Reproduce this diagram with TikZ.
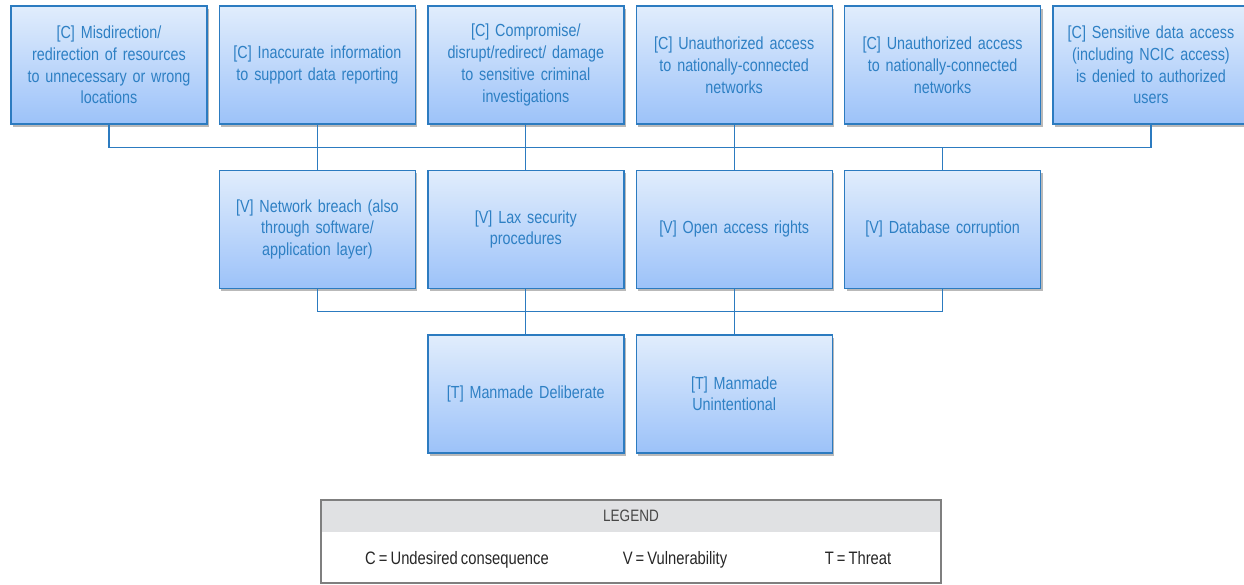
\documentclass[tikz,border=0pt]{standalone}
\usepackage{fontspec}
\setmainfont{Liberation Sans}[FakeStretch=0.82, WordSpace=0.75]
\usepackage{tikz}
\usetikzlibrary{calc,positioning,shadows}
\definecolor{boxline}{HTML}{2C7BC0}
\definecolor{boxtop}{HTML}{E1EDFC}
\definecolor{boxbottom}{HTML}{9CC2F9}
\definecolor{boxtext}{HTML}{2E80C4}
\definecolor{legendgray}{HTML}{E0E1E3}
\definecolor{legendline}{HTML}{7F7F7F}
\definecolor{legendtext}{HTML}{262626}

\begin{document}
\begin{tikzpicture}[
            x=1pt, y=1pt,
            node distance = 45pt and 11pt,
            riskbox/.style = {draw=boxline,
                line width=1.4pt,
                top color=boxtop,
                bottom color=boxbottom,
                text=boxtext,
                font=\fontsize{17.5}{21.8}\selectfont,
                inner sep=0pt,
                minimum width=196pt,
                minimum height=118pt,
                text width=190pt,
                align=center,
                drop shadow={shadow xshift=2pt, shadow yshift=-3pt, fill=black!50, opacity=.55},
            },
            link/.style = {draw=boxline, line width=1.2pt},
            legendtxt/.style = {text=legendtext, font=\fontsize{18}{20}\selectfont, inner sep=0pt, anchor=base},
        ]
            \useasboundingbox (0,0) rectangle (1244,-584);
            \node[riskbox] (C1) at (109,-65) {[C] Misdirection/\\redirection of resources\\to unnecessary or wrong\\locations};
            \node[riskbox, right=of C1] (C2) {[C] Inaccurate information\\to support data reporting};
            \node[riskbox, right=of C2] (C3) {[C] Compromise/\\disrupt/redirect/ damage\\to sensitive criminal\\investigations};
            \node[riskbox, right=of C3] (C4) {[C] Unauthorized access\\to nationally-connected\\networks};
            \node[riskbox, right=of C4] (C5) {[C] Unauthorized access\\to nationally-connected\\networks};
            \node[riskbox, right=of C5] (C6) {[C] Sensitive data access\\(including NCIC access)\\is denied to authorized\\users};
            \node[riskbox, below=of C2] (V1) {[V] Network breach (also\\through software/\\application layer)};
            \node[riskbox, below=of C3] (V2) {[V] Lax security\\procedures};
            \node[riskbox, below=of C4] (V3) {[V] Open access rights};
            \node[riskbox, below=of C5] (V4) {[V] Database corruption};
            \node[riskbox, below=of V2] (T1) {[T] Manmade Deliberate};
            \node[riskbox, below=of V3] (T2) {[T] Manmade\\Unintentional};
            \coordinate (busC) at ($(C2.south)!.5!(V1.north)$);
            \coordinate (busV) at ($(V2.south)!.5!(T1.north)$);
            \draw[link] (C1.south) -- (C1.south |- busC) -| (C6.south);
            \foreach \c in {C2,C3,C4}
                \draw[link] (\c.south) -- (\c.south |- busC);
            \foreach \v in {V1,V2,V3,V4}
                \draw[link] (\v.north) -- (\v.north |- busC);
            \draw[link] (V1.south) -- (V1.south |- busV) -| (V4.south);
            \foreach \v in {V2,V3}
                \draw[link] (\v.south) -- (\v.south |- busV);
            \foreach \t in {T1,T2}
                \draw[link] (\t.north) -- (\t.north |- busV);
            \node[fill=legendgray, minimum width=620pt, minimum height=32pt, inner sep=0pt,
                text=legendtext!85, font=\fontsize{16.5}{18}\selectfont, anchor=north] (LH) at (631,-500) {LEGEND};
            \node[minimum width=620pt, minimum height=50pt, inner sep=0pt, below=0pt of LH] (LB) {};
            \draw[legendline, line width=1.5pt] (LH.north west) rectangle (LB.south east);
            \node[legendtxt] (LC) at (457,-564) {C = Undesired consequence};
            \node[legendtxt] (LV) at (675,-564) {V = Vulnerability};
            \node[legendtxt] (LT) at (858,-564) {T = Threat};
        \end{tikzpicture}
\end{document}
